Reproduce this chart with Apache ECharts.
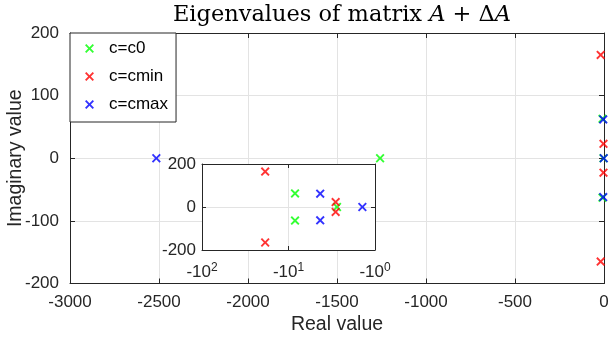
<!DOCTYPE html>
<html>
<head>
<meta charset="utf-8">
<script src="https://cdn.jsdelivr.net/npm/echarts@6/dist/echarts.min.js"></script>
<style>html,body{margin:0;padding:0;background:#fff;}#c{width:609px;height:345px;}</style>
</head>
<body>
<div id="c"></div>
<script>
// Eigenvalues (real, imaginary) for each case
const c0Re   = [-1258, -8.4, -8.4, -2.75];
const c0Im   = [0, 63, -63, 0];
const cminRe = [-18.6, -18.6, -2.85, -2.85];
const cminIm = [165, -165, 23, -23];
const cmaxRe = [-2515, -4.3, -4.3, -1.4];
const cmaxIm = [0, 62, -62, 0];

const mainXTicks = [-3000, -2500, -2000, -1500, -1000, -500, 0];
const mainYTicks = [-200, -100, 0, 100, 200];
const insetXTicks = [1, 10, 100];   // shown as -10^0, -10^1, -10^2
const insetYTicks = [-200, 0, 200];

const seriesDefs = [
  {name: 'c=c0',   re: c0Re,   im: c0Im,   color: '#00ff00'},
  {name: 'c=cmin', re: cminRe, im: cminIm, color: '#ff0000'},
  {name: 'c=cmax', re: cmaxRe, im: cmaxIm, color: '#0000ff'}
];

const XSYM = 'path://M0,1.5 L1.5,0 L5,3.5 L8.5,0 L10,1.5 L6.5,5 L10,8.5 L8.5,10 L5,6.5 L1.5,10 L0,8.5 L3.5,5 Z';
const TXT = '#262626';
const GRIDC = '#e3e3e3';
const FONT = '"Liberation Sans", Arial, Helvetica, sans-serif';
const SERIF = '"DejaVu Serif", "Liberation Serif", serif';

// minor log grid positions for inset
const minorVals = [];
for (let d = 1; d <= 10; d *= 10) for (let k = 2; k <= 9; k++) minorVals.push(k * d);

const chart = echarts.init(document.getElementById('c'), null, {renderer: 'canvas'});

function boxAxis(common, extra) { return Object.assign({}, common, extra); }
function plain(v) { return String(v); }

const series = [];
seriesDefs.forEach(function (s) {
  series.push({
    type: 'scatter', name: s.name, xAxisIndex: 0, yAxisIndex: 0,
    symbol: XSYM, symbolSize: 9, itemStyle: {color: s.color},
    data: s.re.map(function (r, i) { return [r, s.im[i]]; }),
    z: 3, silent: true
  });
});
seriesDefs.forEach(function (s) {
  const d = [];
  s.re.forEach(function (r, i) { if (-r >= 1 && -r <= 100) d.push([-r, s.im[i]]); });
  series.push({
    type: 'scatter', name: s.name, xAxisIndex: 2, yAxisIndex: 2,
    symbol: XSYM, symbolSize: 9, itemStyle: {color: s.color},
    data: d, z: 12, silent: true
  });
});
series.push({
  type: 'scatter', name: 'minorgrid', xAxisIndex: 2, yAxisIndex: 2, data: [], z: 11, silent: true,
  markLine: {
    silent: true, symbol: ['none', 'none'], label: {show: false},
    lineStyle: {type: [1, 2], color: '#bdbdbd', width: 1},
    data: minorVals.map(function (v) { return {xAxis: v}; }),
    animation: false
  }
});

const mainXCommon = {
  type: 'value', gridIndex: 0, min: -3000, max: 0, interval: 500,
  axisLine: {show: true, onZero: false, lineStyle: {color: TXT, width: 1}},
  axisTick: {show: true, inside: true, length: 5, lineStyle: {color: TXT}},
  splitLine: {show: false}
};
const mainYCommon = {
  type: 'value', gridIndex: 0, min: -200, max: 200, interval: 100,
  axisLine: {show: true, onZero: false, lineStyle: {color: TXT, width: 1}},
  axisTick: {show: true, inside: true, length: 5, lineStyle: {color: TXT}},
  splitLine: {show: false}
};
const insetXCommon = {
  type: 'log', logBase: 10, gridIndex: 1, min: 1, max: 100, inverse: true,
  axisLine: {show: true, onZero: false, lineStyle: {color: TXT, width: 1}},
  axisTick: {show: true, inside: true, length: 4, lineStyle: {color: TXT}},
  splitLine: {show: false}, z: 10
};
const insetYCommon = {
  type: 'value', gridIndex: 1, min: -200, max: 200, interval: 200,
  axisLine: {show: true, onZero: false, lineStyle: {color: TXT, width: 1}},
  axisTick: {show: true, inside: true, length: 4, lineStyle: {color: TXT}},
  splitLine: {show: false}, z: 10
};

const option = {
  animation: false,
  backgroundColor: '#ffffff',
  title: {
    text: '{n|Eigenvalues of matrix }{i|A}{n| + Δ}{i|A}',
    left: 337, top: -1, textAlign: 'center',
    textStyle: {
      fontWeight: 'normal',
      rich: {
        n: {fontFamily: SERIF, fontSize: 22.5, fontWeight: 'normal', color: '#000'},
        i: {fontFamily: SERIF, fontSize: 22.5, fontWeight: 'normal', fontStyle: 'italic', color: '#000'}
      }
    }
  },
  legend: {
    orient: 'vertical', left: 70, top: 33,
    backgroundColor: '#ffffff', borderColor: TXT, borderWidth: 1,
    padding: [6, 8, 8, 15],
    itemWidth: 9, itemHeight: 9, itemGap: 9,
    textStyle: {fontFamily: FONT, fontSize: 17, color: '#000', padding: [0, 0, 0, 10], lineHeight: 19},
    data: seriesDefs.map(function (s) { return {name: s.name, icon: XSYM, itemStyle: {color: s.color}}; }),
    z: 20, selectedMode: false
  },
  grid: [
    {left: 70, right: 5, top: 33, bottom: 61.5, show: false, containLabel: false, outerBoundsMode: 'none'},
    {left: 202, right: 234, top: 164, bottom: 95, show: true, backgroundColor: '#ffffff', borderWidth: 0, z: 10, containLabel: false, outerBoundsMode: 'none'}
  ],
  xAxis: [
    boxAxis(mainXCommon, {
      position: 'bottom',
      name: 'Real value', nameLocation: 'middle', nameGap: 31, nameMoveOverlap: false,
      nameTextStyle: {fontFamily: FONT, fontSize: 19.5, color: TXT},
      axisLabel: {fontFamily: FONT, fontSize: 17, color: TXT, margin: 10, formatter: plain,
        customValues: mainXTicks},
      splitLine: {show: true, lineStyle: {color: GRIDC, width: 1}}
    }),
    boxAxis(mainXCommon, {position: 'top', axisLabel: {show: false}}),
    boxAxis(insetXCommon, {
      position: 'bottom',
      axisLabel: {
        color: TXT, margin: 12, customValues: insetXTicks,
        formatter: function (v) {
          const e = Math.round(Math.log10(v));
          return '{b|-10}{s|' + e + '}';
        },
        rich: {
          b: {fontFamily: FONT, fontSize: 17, color: TXT},
          s: {fontFamily: FONT, fontSize: 12, color: TXT, verticalAlign: 'top', padding: [0, 0, 8, 0]}
        }
      },
      splitLine: {show: true, lineStyle: {color: GRIDC, width: 1}}
    }),
    boxAxis(insetXCommon, {position: 'top', axisLabel: {show: false}})
  ],
  yAxis: [
    boxAxis(mainYCommon, {
      position: 'left',
      name: 'Imaginary value', nameLocation: 'middle', nameGap: 44, nameMoveOverlap: false,
      nameTextStyle: {fontFamily: FONT, fontSize: 19.5, color: TXT},
      axisLabel: {fontFamily: FONT, fontSize: 17, color: TXT, margin: 11, formatter: plain, customValues: mainYTicks},
      splitLine: {show: true, lineStyle: {color: GRIDC, width: 1}}
    }),
    boxAxis(mainYCommon, {position: 'right', axisLabel: {show: false}}),
    boxAxis(insetYCommon, {
      position: 'left',
      axisLabel: {fontFamily: FONT, fontSize: 17, color: TXT, margin: 6, formatter: plain, customValues: insetYTicks},
      splitLine: {show: true, lineStyle: {color: GRIDC, width: 1}}
    }),
    boxAxis(insetYCommon, {position: 'right', axisLabel: {show: false}})
  ],
  series: series
};
chart.setOption(option);
</script>
</body>
</html>
